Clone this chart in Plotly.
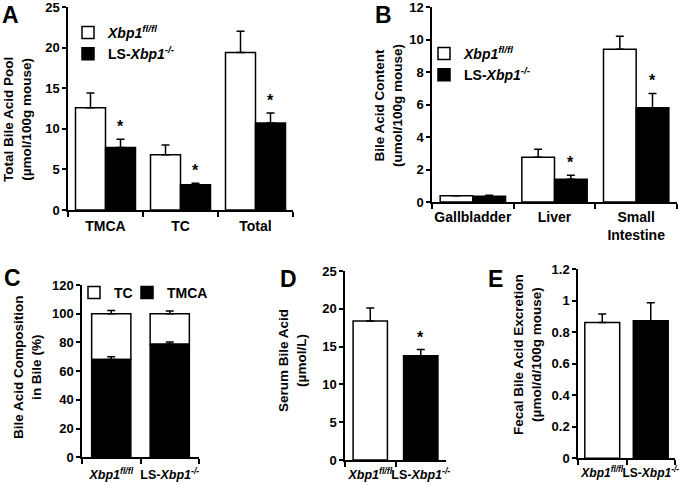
import plotly.graph_objects as go

FONT = "Liberation Sans, Arial, sans-serif"
WT = "<i>Xbp1<sup>fl/fl</sup></i>"
KO = "LS-<i>Xbp1<sup>-/-</sup></i>"

# ---------------- data ----------------
a_categories = ["TMCA", "TC", "Total"]
a_wt = [12.6, 6.8, 19.4]
a_wt_err = [1.8, 1.2, 2.6]
a_ko = [7.7, 3.1, 10.7]
a_ko_err = [1.0, 0.2, 1.25]
a_sig = [True, True, True]

b_categories = ["Gallbladder", "Liver", "Small<br>Intestine"]
b_wt = [0.38, 2.76, 9.4]
b_wt_err = [0.01, 0.48, 0.8]
b_ko = [0.36, 1.4, 5.8]
b_ko_err = [0.05, 0.24, 0.88]
b_sig = [False, True, True]

c_groups = [WT, KO]
c_tmca = [68.2, 78.7]
c_tmca_err = [1.9, 1.6]
c_tc = [31.8, 21.3]
c_tc_err = [2.2, 1.9]

d_groups = [WT, KO]
d_serum = [18.4, 13.8]
d_serum_err = [1.7, 0.8]
d_sig = [False, True]

e_groups = [WT, KO]
e_fecal = [0.863, 0.874]
e_fecal_err = [0.053, 0.114]
e_sig = [False, False]

# ---------------- geometry helpers ----------------
W, H = 700, 485


def px_x(p):
    return p / W


def px_y(p):
    return 1 - p / H


LINE = dict(color="black", width=1.5)


def err(vals):
    return dict(type="data", array=vals, arrayminus=[0] * len(vals), symmetric=False,
                color="black", thickness=1.5, width=4)


fig = go.Figure()

# ---------------- Panel A ----------------
fig.add_trace(go.Bar(x=a_categories, y=a_wt, xaxis="x", yaxis="y", offset=-0.4, width=0.4,
                     marker=dict(color="white", line=LINE), error_y=err(a_wt_err),
                     name=WT, legend="legend"))
fig.add_trace(go.Bar(x=a_categories, y=a_ko, xaxis="x", yaxis="y", offset=0.0, width=0.4,
                     marker=dict(color="black", line=LINE), error_y=err(a_ko_err),
                     name=KO, legend="legend"))

# ---------------- Panel B ----------------
fig.add_trace(go.Bar(x=b_categories, y=b_wt, xaxis="x2", yaxis="y2", offset=-0.4, width=0.4,
                     marker=dict(color="white", line=LINE), error_y=err(b_wt_err),
                     name=WT, legend="legend2"))
fig.add_trace(go.Bar(x=b_categories, y=b_ko, xaxis="x2", yaxis="y2", offset=0.0, width=0.4,
                     marker=dict(color="black", line=LINE), error_y=err(b_ko_err),
                     name=KO, legend="legend2"))

# ---------------- Panel C (stacked via base) ----------------
fig.add_trace(go.Bar(x=c_groups, y=c_tc, base=c_tmca, xaxis="x3", yaxis="y3",
                     offset=-0.335, width=0.67,
                     marker=dict(color="white", line=LINE), error_y=err(c_tc_err),
                     name="TC", legend="legend3"))
fig.add_trace(go.Bar(x=c_groups, y=c_tmca, xaxis="x3", yaxis="y3",
                     offset=-0.335, width=0.67,
                     marker=dict(color="black", line=LINE), error_y=err(c_tmca_err),
                     name="TMCA", legend="legend4"))

# ---------------- Panel D ----------------
fig.add_trace(go.Bar(x=d_groups, y=d_serum, xaxis="x4", yaxis="y4",
                     offset=-0.34, width=0.68,
                     marker=dict(color=["white", "black"], line=LINE),
                     error_y=err(d_serum_err), showlegend=False))

# ---------------- Panel E ----------------
fig.add_trace(go.Bar(x=e_groups, y=e_fecal, xaxis="x5", yaxis="y5",
                     offset=-0.36, width=0.72,
                     marker=dict(color=["white", "black"], line=LINE),
                     error_y=err(e_fecal_err), showlegend=False))

# ---------------- axes ----------------
panels = {
    # suffix: (x0, x1, y_top, y_zero, yrange, dtick, ncat, category font size, label standoff)
    "": (68, 293, 7, 210, [0, 25], 5, 3, 14, 2),
    "2": (432, 677, 7, 202, [0, 12], 2, 3, 14, 1),
    "3": (82, 199, 285, 457.3, [0, 120], 20, 2, 12.5, 5),
    "4": (345, 446, 271, 460, [0, 25], 5, 2, 12.5, 2),
    "5": (578, 675, 269.3, 458.3, [0, 1.2], 0.2, 2, 12, 3),
}

tickfont = dict(family=FONT, size=13, color="black", weight="bold")

layout_axes = {}
for k, (x0, x1, yt, y0, yr, dt, n, cs, so) in panels.items():
    layout_axes["xaxis" + k] = dict(
        domain=[px_x(x0), px_x(x1)], anchor="y" + k, type="category",
        range=[-0.5, n - 0.5], showline=True, linecolor="black", linewidth=1.5,
        ticks="outside", tickson="boundaries", ticklen=5, tickwidth=1.5, tickcolor="black",
        showgrid=False, zeroline=False, tickangle=0, ticklabelstandoff=so,
        tickfont=dict(family=FONT, size=cs, color="black", weight="bold"),
        ticklabeloverflow="allow", automargin=False, fixedrange=True)
    layout_axes["yaxis" + k] = dict(
        domain=[px_y(y0), px_y(yt)], anchor="x" + k, range=yr, dtick=dt, tick0=0,
        showline=True, linecolor="black", linewidth=1.5,
        ticks="outside", ticklen=4, tickwidth=1.5, tickcolor="black",
        showgrid=False, zeroline=False, tickfont=tickfont, automargin=False,
        ticklabeloverflow="allow", fixedrange=True)

# ---------------- annotations ----------------
ann = []

letters = [("A", 0, 0), ("B", 373, 0), ("C", 2, 263), ("D", 278, 264), ("E", 486, 264)]
for t, x, y in letters:
    ann.append(dict(text="<b>%s</b>" % t, x=px_x(x), y=px_y(y), xref="paper", yref="paper",
                    xanchor="left", yanchor="top", showarrow=False,
                    font=dict(family=FONT, size=23, color="black", weight="bold")))

titles = [
    ("Total Bile Acid Pool<br>(µmol/100g mouse)", 17, 120),
    ("Bile Acid Content<br>(umol/100g mouse)", 388, 106),
    ("Bile Acid Composition<br>in Bile (%)", 27, 367),
    ("Serum Bile Acid<br>(µmol/L)", 292, 361),
    ("Fecal Bile Acid Excretion<br>(µmol/d/100g mouse)", 527, 355),
]
for t, x, y in titles:
    ann.append(dict(text="<b>%s</b>" % t, x=px_x(x), y=px_y(y), xref="paper", yref="paper",
                    xanchor="center", yanchor="middle", textangle=-90, showarrow=False,
                    font=dict(family=FONT, size=13.5, color="black", weight="bold")))


def stars(axis_suffix, vals, errs, sig, xoff):
    for i, (v, e, s) in enumerate(zip(vals, errs, sig)):
        if s:
            ann.append(dict(text="<b>*</b>", x=i + xoff, y=v + e,
                            xref="x" + axis_suffix, yref="y" + axis_suffix,
                            xanchor="center", yanchor="bottom", yshift=2, showarrow=False,
                            font=dict(family=FONT, size=16, color="black", weight="bold")))


stars("", a_ko, a_ko_err, a_sig, 0.2)
stars("2", b_ko, b_ko_err, b_sig, 0.2)
stars("4", d_serum, d_serum_err, d_sig, 0.0)
stars("5", e_fecal, e_fecal_err, e_sig, 0.0)

legfont = dict(family=FONT, size=14, color="black", weight="bold")


def leg(x, y):
    return dict(x=px_x(x), y=px_y(y), xanchor="left", yanchor="top", font=legfont,
                bgcolor="rgba(0,0,0,0)", traceorder="normal", tracegroupgap=0)


fig.update_layout(
    template="none",
    width=W, height=H,
    margin=dict(l=0, r=0, t=0, b=0, autoexpand=False),
    paper_bgcolor="white", plot_bgcolor="white",
    font=dict(family=FONT, size=13, color="black", weight="bold"),
    barmode="group",
    annotations=ann,
    legend=leg(68, 17),
    legend2=leg(424, 38),
    legend3=leg(74, 277),
    legend4=leg(127, 277),
    **layout_axes,
)

fig.write_html("out.html", config={"displayModeBar": False},
               post_script="document.body.style.margin='0';")
